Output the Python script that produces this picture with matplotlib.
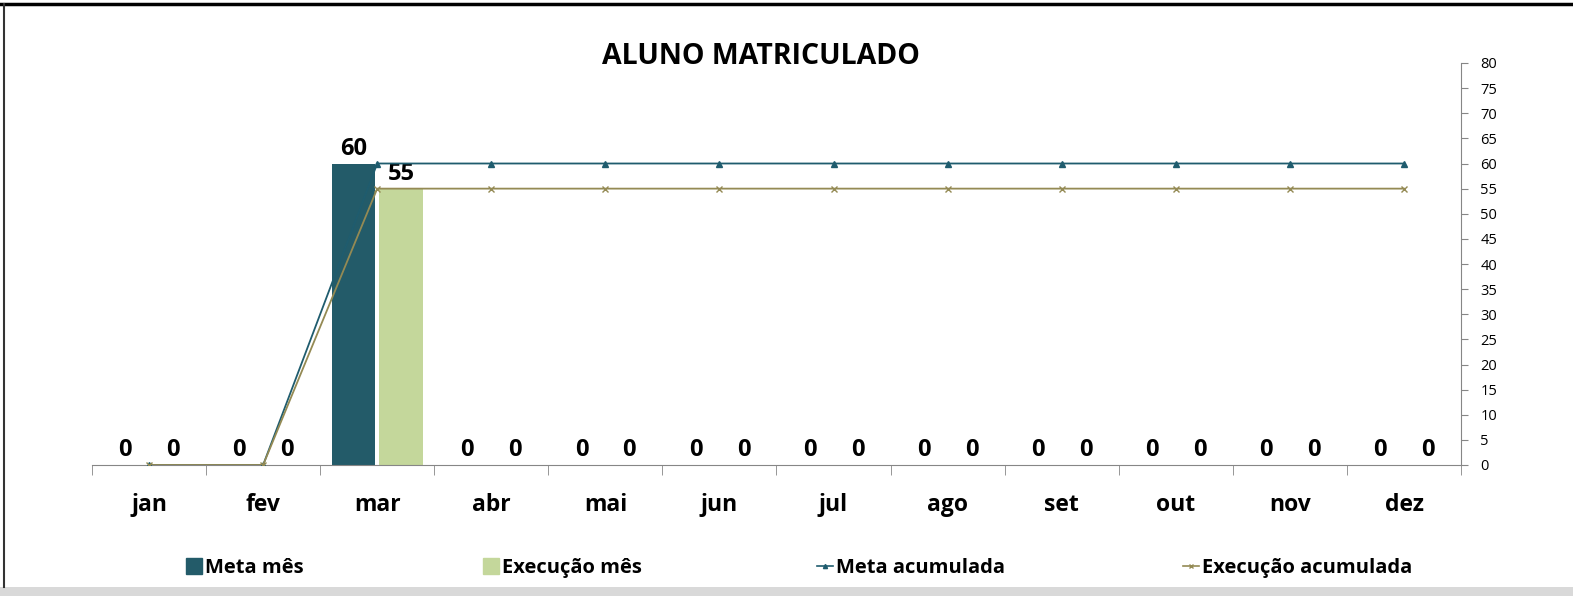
import numpy as np
import matplotlib
matplotlib.use("Agg")
import matplotlib.pyplot as plt
from matplotlib.lines import Line2D
from matplotlib.patches import Patch, Rectangle

plt.rcParams['font.family'] = ['Open Sans', 'DejaVu Sans']

# --- dados ---
meses = ['jan', 'fev', 'mar', 'abr', 'mai', 'jun', 'jul', 'ago', 'set', 'out', 'nov', 'dez']
meta_mes = [0, 0, 60, 0, 0, 0, 0, 0, 0, 0, 0, 0]
execucao_mes = [0, 0, 55, 0, 0, 0, 0, 0, 0, 0, 0, 0]
meta_acumulada = [0, 0, 60, 60, 60, 60, 60, 60, 60, 60, 60, 60]
execucao_acumulada = [0, 0, 55, 55, 55, 55, 55, 55, 55, 55, 55, 55]

COR_META = '#235B69'
COR_EXEC = '#C4D79B'
COR_META_LINHA = '#1F5C6E'
COR_EXEC_LINHA = '#948A54'
COR_EIXO = '#868686'

fig = plt.figure(figsize=(15.73, 5.96), dpi=100)
ax = fig.add_axes([92 / 1573, 131 / 596, (1461 - 92) / 1573, 402 / 596])
ax2 = ax.twinx()

x = np.arange(len(meses))
largura = 0.38
b1 = ax.bar(x - 0.21, meta_mes, largura, color=COR_META)
b2 = ax.bar(x + 0.21, execucao_mes, largura, color=COR_EXEC)

for barras in (b1, b2):
    for r in barras:
        ax.annotate(f'{r.get_height():.0f}', (r.get_x() + r.get_width() / 2, r.get_height()),
                    xytext=(0, 2), textcoords='offset points', ha='center', va='bottom',
                    fontsize=17, fontweight='bold')

ax2.plot(x, meta_acumulada, color=COR_META_LINHA, lw=1.3, marker='^', ms=4)
ax2.plot(x, execucao_acumulada, color=COR_EXEC_LINHA, lw=1.3, marker='x', ms=4, mew=1)

for a in (ax, ax2):
    a.set_xlim(-0.5, 11.5)
    a.set_ylim(0, 80)
    for s in ('top', 'left', 'right', 'bottom'):
        a.spines[s].set_visible(False)

ax.spines['bottom'].set_visible(True)
ax.spines['bottom'].set_color(COR_EIXO)
ax.set_yticks([])
ax.set_xticks(x)
ax.set_xticklabels(meses, fontsize=16.5, fontweight='bold')
ax.set_xticks(np.arange(-0.5, 12, 1), minor=True)
ax.tick_params(axis='x', which='major', length=0, pad=20.5)
ax.tick_params(axis='x', which='minor', length=7, color=COR_EIXO, direction='out')

ax2.spines['right'].set_visible(True)
ax2.spines['right'].set_color(COR_EIXO)
ax2.set_yticks(np.arange(0, 81, 5))
ax2.tick_params(axis='y', length=5, color=COR_EIXO, labelsize=10.5, pad=9)

fig.text(0.484, 0.905, 'ALUNO MATRICULADO', ha='center', va='center',
         fontsize=20.5, fontweight='bold')

# legenda: uma entrada por posição, como no Excel
handles = [Patch(color=COR_META), Patch(color=COR_EXEC),
           Line2D([], [], color=COR_META_LINHA, marker='^', ms=3, lw=1.2),
           Line2D([], [], color=COR_EXEC_LINHA, marker='x', ms=3, lw=1.2)]
nomes = ['Meta mês', 'Execução mês', 'Meta acumulada', 'Execução acumulada']
inicio_px = [186, 483, 817, 1183]
for h, n, px in zip(handles, nomes, inicio_px):
    fig.legend([h], [n], loc='center left', bbox_to_anchor=(px / 1573, (596 - 568) / 596),
               frameon=False, prop={'size': 14.5, 'weight': 'bold'}, borderaxespad=0,
               borderpad=0, handlelength=0.8, handleheight=0.8, handletextpad=0.15)

# moldura da célula do Excel
fig.add_artist(Rectangle((0, 0), 1, 9 / 596, transform=fig.transFigure,
                         color='#D9D9D9', lw=0))
fig.add_artist(Line2D([0, 1], [1 - 4 / 596, 1 - 4 / 596], transform=fig.transFigure,
                      color='black', lw=2.5))
fig.add_artist(Line2D([4 / 1573, 4 / 1573], [9 / 596, 1 - 4 / 596], transform=fig.transFigure,
                      color='#333333', lw=1.5))

fig.savefig('out.png', dpi=100)
